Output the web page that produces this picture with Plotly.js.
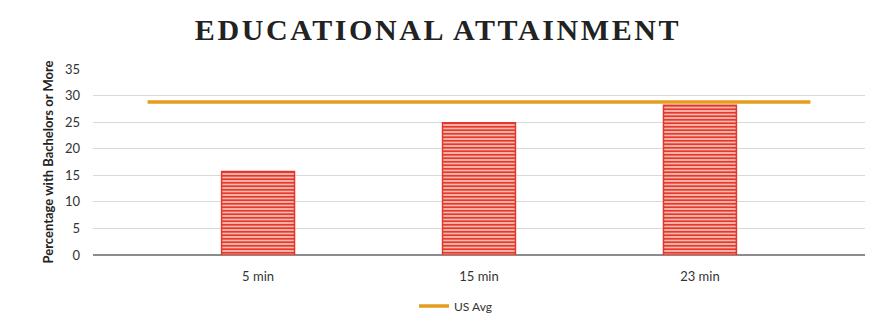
<!DOCTYPE html>
<html><head><meta charset="utf-8">
<script src="https://cdn.plot.ly/plotly-3.0.1.min.js"></script>
<style>html,body{margin:0;padding:0;background:#fff}#chart{width:876px;height:329px}
.gtitle{letter-spacing:2.6px}</style>
</head><body><div id="chart"></div>
<script>
const categories = ['5 min', '15 min', '23 min'];
const pctBachelors = [15.7, 24.9, 28.2];
const usAvg = 28.8;
const yTicks = [0, 5, 10, 15, 20, 25, 30, 35];

const idx = categories.map((c, i) => i);

const bars = {
  type: 'bar', x: idx, y: pctBachelors, width: 0.33, showlegend: false,
  marker: {
    color: '#f3aaa2',
    line: {color: '#e2382c', width: 1.5},
    pattern: {shape: '-', fgcolor: '#e4392d', bgcolor: '#f6b7ad', size: 3.5, solidity: 0.5}
  },
  hoverinfo: 'y'
};
const avgLine = {
  type: 'scatter', mode: 'lines', name: 'US Avg',
  x: [idx[0] - 0.5, idx[idx.length - 1] + 0.5], y: [usAvg, usAvg],
  line: {color: '#e59c1f', width: 3.5}
};

const layout = {
  width: 876, height: 329,
  paper_bgcolor: '#ffffff', plot_bgcolor: '#ffffff',
  margin: {l: 93, r: 11, t: 69, b: 74},
  title: {text: 'EDUCATIONAL ATTAINMENT', x: 0.5, xanchor: 'center', y: 0.91, yanchor: 'middle',
          font: {family: 'Liberation Serif, serif', size: 30, color: '#222', weight: 'bold'}},
  xaxis: {type: 'linear', range: [-0.747, 2.747], tickvals: idx, ticktext: categories,
          showgrid: false, zeroline: false, showline: false, ticks: '', automargin: false,
          ticklabelstandoff: 12,
          tickfont: {family: 'Lato, sans-serif', size: 13, color: '#333'}},
  yaxis: {range: [0, 35], tickvals: yTicks, showgrid: true, gridcolor: '#d9d9d9', gridwidth: 1,
          zeroline: true, zerolinecolor: '#8c8c8c', zerolinewidth: 1.5, showline: false, ticks: '',
          automargin: false, ticklabelstandoff: 12,
          tickfont: {family: 'Lato, sans-serif', size: 13, color: '#333'},
          title: {text: 'Percentage with Bachelors or More', standoff: 8,
                  font: {family: 'Lato, sans-serif', size: 13, color: '#222', weight: 'bold'}}},
  legend: {orientation: 'h', xref: 'container', yref: 'container', x: 0.52, xanchor: 'center',
           y: 0.07, yanchor: 'middle',
           font: {family: 'Lato, sans-serif', size: 12, color: '#333'}},
  bargap: 0.67
};

Plotly.newPlot('chart', [bars, avgLine], layout, {displayModeBar: false, staticPlot: true});
</script></body></html>
